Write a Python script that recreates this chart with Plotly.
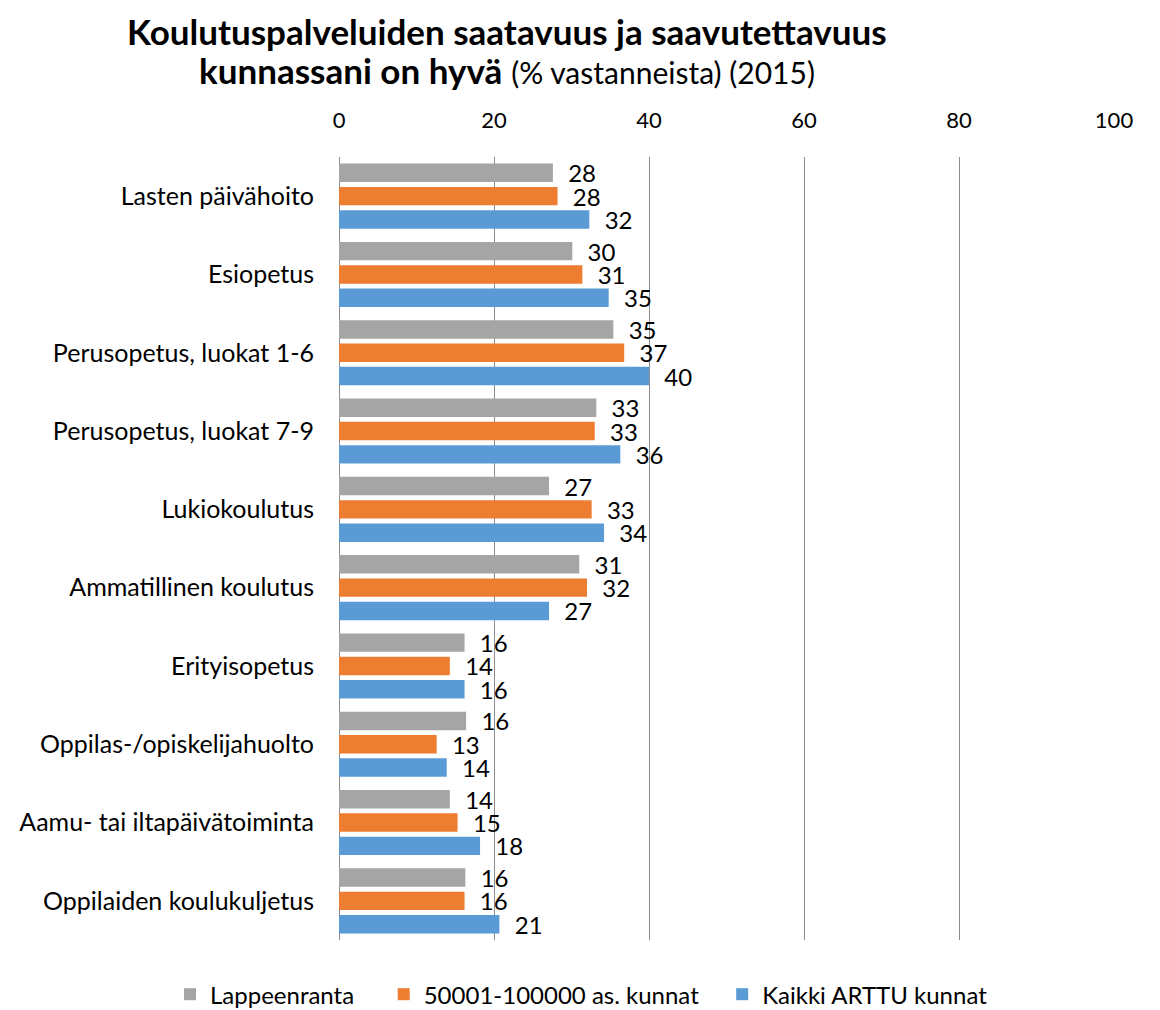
import plotly.graph_objects as go

categories = [
    "Lasten päivähoito",
    "Esiopetus",
    "Perusopetus, luokat 1-6",
    "Perusopetus, luokat 7-9",
    "Lukiokoulutus",
    "Ammatillinen koulutus",
    "Erityisopetus",
    "Oppilas-/opiskelijahuolto",
    "Aamu- tai iltapäivätoiminta",
    "Oppilaiden koulukuljetus",
]

lappeenranta = [27.6, 30.1, 35.4, 33.2, 27.1, 31.0, 16.2, 16.4, 14.3, 16.3]
kunnat_50001 = [28.2, 31.4, 36.8, 33.0, 32.6, 32.0, 14.3, 12.6, 15.3, 16.2]
kaikki_arttu = [32.3, 34.8, 40.0, 36.3, 34.2, 27.1, 16.2, 13.9, 18.2, 20.7]

series_names = ["Lappeenranta", "50001-100000 as. kunnat", "Kaikki ARTTU kunnat"]
series_values = [lappeenranta, kunnat_50001, kaikki_arttu]
colors = ["#A5A5A5", "#ED7D31", "#5B9BD5"]

x_ticks = [0, 20, 40, 60, 80, 100]

title_line1 = "Koulutuspalveluiden saatavuus ja saavutettavuus"
title_line2 = "kunnassani on hyvä"
title_sub = "(% vastanneista) (2015)"

FONT = "Lato"

# page has an 8px body margin; plot area in page pixels: x 339..1114, y 157..940
W, H = 1152, 1002
PL, PR, PT, PB = 339, 1114, 157, 940
OFF = 8
NB = "\u00a0"
legend_pads = [NB * 4, NB * 3, ""]  # spacing between legend entries


def py(page_y):
    return 1 + (PT - page_y) / (PB - PT)


def px(page_x):
    return (page_x - PL) / (PR - PL)


fig = go.Figure()
for name, vals, col, pad in zip(series_names, series_values, colors, legend_pads):
    fig.add_trace(go.Bar(
        y=categories,
        x=vals,
        name=name + pad,
        orientation="h",
        marker=dict(color=col, line=dict(width=0)),
        texttemplate=NB * 2 + "%{x:.0f}",
        textposition="outside",
        constraintext="none",
        cliponaxis=False,
        textfont=dict(family=FONT, size=24, color="#000000"),
    ))

fig.add_annotation(
    text="<b>" + title_line1 + "</b>",
    xref="paper", yref="paper",
    x=px(507), y=py(8),
    xanchor="center", yanchor="top",
    showarrow=False,
    font=dict(family=FONT, size=35, color="#000000"),
)
fig.add_annotation(
    text="<b>" + title_line2 + "</b> <span style='font-size:30px'>" + title_sub + "</span>",
    xref="paper", yref="paper",
    x=px(507), y=py(70),
    xanchor="center", yanchor="middle",
    showarrow=False,
    font=dict(family=FONT, size=35, color="#000000"),
)

fig.update_layout(
    width=W,
    height=H,
    barmode="group",
    bargap=0.106,
    bargroupgap=0.21,
    plot_bgcolor="white",
    paper_bgcolor="white",
    margin=dict(l=PL - OFF, r=W - (PR - OFF), t=PT - OFF, b=H - (PB - OFF), autoexpand=False),
    font=dict(family=FONT, size=24, color="#000000"),
    showlegend=True,
    legend=dict(
        orientation="h",
        x=px(170),
        xanchor="left",
        y=-0.041,
        yanchor="top",
        font=dict(family=FONT, size=24),
        traceorder="normal",
    ),
    xaxis=dict(
        side="top",
        range=[0, 100],
        tickvals=x_ticks,
        showgrid=True,
        gridcolor="#8C8C8C",
        gridwidth=1,
        zeroline=True,
        zerolinecolor="#8C8C8C",
        zerolinewidth=1,
        showline=False,
        ticks="outside",
        ticklen=19,
        tickcolor="rgba(0,0,0,0)",
        tickfont=dict(family=FONT, size=22),
        fixedrange=True,
    ),
    yaxis=dict(
        categoryorder="array",
        categoryarray=categories,
        autorange="reversed",
        showgrid=False,
        showline=False,
        ticks="outside",
        ticklen=19,
        tickcolor="rgba(0,0,0,0)",
        tickfont=dict(family=FONT, size=25),
    ),
)

fig.write_html("out.html")
